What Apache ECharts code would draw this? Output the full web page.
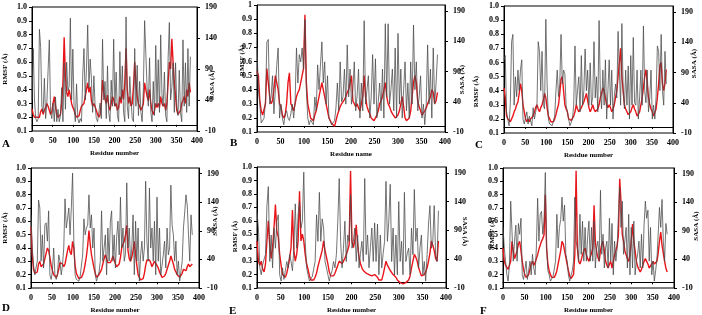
<!DOCTYPE html>
<html>
<head>
<meta charset="utf-8">
<script src="https://cdn.jsdelivr.net/npm/echarts@6/dist/echarts.min.js"></script>
<style>
  html, body { margin: 0; padding: 0; background: #fff; }
  #chart { width: 702px; height: 315px; }
</style>
</head>
<body>
<div id="chart"></div>
<script>
// RMSF / SASA per residue, six panels (A-F)

// residues are sampled every 3 positions: 0, 3, 6 ... 384
const STEP = 3;

// tick labels
const rmsfTicks = [0.1, 0.2, 0.3, 0.4, 0.5, 0.6, 0.7, 0.8, 0.9, 1.0];
const sasaTicks = [-10, 40, 90, 140, 190];
const resTicks = [0, 50, 100, 150, 200, 250, 300, 350, 400];

// panel A
const sasaA = [40,123,40,10,5,10,154,125,30,20, 75,10,35,88,137,20,10,35,5,45, 5,25,5,15,60,5,100,25,101,55,
  62,172,40,122,30,5,66,10,3,10, 5,80,123,40,90,161,60,106,75,20, 79,30,10,5,3,35,10,138,40,70,
  10,95,20,5,72,30,138,30,85,15, 5,118,40,95,20,5,174,30,10,78, 40,10,5,123,30,96,15,70,20,5,
  60,168,168,60,30,108,20,5,70,15, 128,30,105,20,145,50,30,85,15,5, 108,165,40,60,100,20,100,30,15,88,
  20,5,137,30,100,20,123,30,110];
const rmsfA = [0.26,0.22,0.2,0.19,0.2,0.21,0.2,0.24,0.26,0.22, 0.25,0.27,0.3,0.28,0.25,0.22,0.24,0.3,0.35,0.28,
  0.22,0.2,0.19,0.22,0.3,0.45,0.78,0.5,0.38,0.35, 0.4,0.35,0.3,0.27,0.25,0.22,0.2,0.19,0.21,0.25,
  0.28,0.27,0.3,0.35,0.4,0.45,0.38,0.42,0.32,0.28, 0.3,0.3,0.25,0.22,0.2,0.22,0.3,0.47,0.38,0.33,
  0.3,0.36,0.28,0.25,0.3,0.35,0.33,0.28,0.3,0.25, 0.27,0.35,0.3,0.4,0.33,0.45,0.7,0.4,0.3,0.35,
  0.28,0.3,0.42,0.6,0.45,0.35,0.3,0.28,0.25,0.27, 0.3,0.45,0.4,0.35,0.32,0.4,0.3,0.25,0.22,0.25,
  0.3,0.27,0.3,0.27,0.35,0.3,0.28,0.3,0.25,0.3, 0.45,0.6,0.55,0.77,0.6,0.45,0.35,0.25,0.22,0.22,
  0.25,0.3,0.32,0.35,0.3,0.4,0.35,0.45,0.38];

// panel B
const sasaB = [129,60,36,5,2,13,40,139,143,36, 48,83,20,60,100,129,13,36,13,2, 20,25,13,9,20,36,13,40,129,71,
  118,106,129,94,176,60,13,2,10,13, 2,48,25,101,60,100,139,71,106,36, 83,13,13,2,5,9,30,71,25,106,
  40,48,94,36,134,48,94,36,60,106, 25,50,94,13,71,25,174,36,60,83, 13,48,118,36,111,13,40,71,25,94,
  13,169,48,169,36,60,94,25,129,13, 153,36,94,13,60,106,25,71,13,106, 36,167,60,106,25,48,83,13,36,2,
  36,134,36,94,13,129,36,71,118];
const rmsfB = [0.53,0.5,0.32,0.25,0.22,0.22,0.3,0.55,0.45,0.35, 0.3,0.32,0.4,0.5,0.45,0.4,0.3,0.28,0.22,0.2,
  0.22,0.3,0.45,0.52,0.3,0.28,0.25,0.3,0.35,0.38, 0.4,0.45,0.5,0.55,0.93,0.45,0.3,0.25,0.2,0.2,
  0.18,0.22,0.25,0.3,0.35,0.4,0.45,0.4,0.35,0.3, 0.25,0.2,0.18,0.16,0.15,0.14,0.18,0.22,0.25,0.28,
  0.3,0.3,0.33,0.35,0.38,0.4,0.45,0.5,0.32,0.3, 0.28,0.3,0.27,0.25,0.3,0.35,0.5,0.35,0.28,0.25,
  0.23,0.2,0.19,0.18,0.2,0.22,0.25,0.3,0.32,0.35, 0.4,0.45,0.35,0.3,0.28,0.25,0.23,0.22,0.2,0.2,
  0.22,0.25,0.3,0.35,0.28,0.2,0.18,0.17,0.2,0.25, 0.35,0.45,0.5,0.45,0.32,0.28,0.25,0.22,0.22,0.25,
  0.27,0.3,0.3,0.35,0.4,0.38,0.3,0.32,0.38];

// panel C
const sasaC = [111,118,25,13,2,40,141,153,36,83, 50,94,60,94,111,13,5,2,25,5, 18,10,2,32,13,25,36,141,125,60,
  125,36,30,178,71,13,5,2,2,10, 18,60,94,50,71,153,71,94,88,36, 25,13,2,5,13,36,134,36,60,83,
  25,118,36,60,129,60,94,36,106,36, 50,141,48,83,25,176,60,30,94,36, 111,13,60,111,36,94,13,50,71,48,
  158,94,36,171,60,30,94,36,101,13, 118,36,148,40,36,94,13,48,94,36, 167,60,40,94,25,48,94,13,36,13,
  50,134,125,60,153,60,36,125,71];
const rmsfC = [0.42,0.35,0.22,0.2,0.19,0.18,0.2,0.22,0.25,0.27, 0.3,0.32,0.38,0.45,0.4,0.3,0.25,0.2,0.18,0.2,
  0.18,0.2,0.2,0.22,0.25,0.28,0.3,0.27,0.25,0.28, 0.3,0.33,0.38,0.35,0.28,0.22,0.2,0.18,0.17,0.18,
  0.2,0.23,0.27,0.3,0.38,0.48,0.5,0.4,0.3,0.27, 0.25,0.2,0.2,0.19,0.2,0.22,0.25,0.3,0.27,0.25,
  0.25,0.28,0.3,0.32,0.35,0.38,0.33,0.28,0.25,0.27, 0.3,0.27,0.25,0.25,0.27,0.3,0.35,0.38,0.42,0.4,
  0.35,0.3,0.28,0.3,0.28,0.25,0.27,0.3,0.35,0.4, 0.5,0.6,0.7,0.5,0.4,0.3,0.27,0.25,0.23,0.22,
  0.25,0.28,0.3,0.27,0.25,0.22,0.22,0.25,0.3,0.35, 0.42,0.5,0.55,0.45,0.35,0.3,0.27,0.25,0.22,0.23,
  0.27,0.35,0.45,0.58,0.6,0.45,0.4,0.45,0.55];

// panel D
const sasaD = [118,60,30,13,25,37,144,130,37,83, 25,100,104,72,125,13,5,20,60,13, 5,13,48,37,13,30,60,146,95,111,
  130,83,130,191,72,13,5,2,2,10, 13,48,111,83,95,100,153,95,118,60, 95,13,2,10,18,37,125,37,60,83,
  13,95,37,107,125,37,83,25,80,107, 48,149,60,95,37,50,174,60,95,37, 60,118,13,107,37,95,2,48,72,37,
  60,177,72,37,165,60,95,37,107,13, 149,37,95,13,30,48,72,25,95,48, 60,170,100,83,37,72,13,37,2,20,
  37,95,123,153,135,83,37,118,83];
const rmsfD = [0.56,0.35,0.24,0.21,0.2,0.22,0.28,0.3,0.26,0.26, 0.28,0.32,0.36,0.4,0.38,0.33,0.27,0.23,0.2,0.19,
  0.18,0.2,0.24,0.29,0.3,0.28,0.26,0.28,0.33,0.38, 0.42,0.37,0.35,0.45,0.4,0.27,0.21,0.19,0.17,0.17,
  0.18,0.2,0.23,0.28,0.34,0.42,0.53,0.43,0.35,0.3, 0.25,0.21,0.18,0.19,0.2,0.21,0.24,0.28,0.32,0.35,
  0.32,0.29,0.28,0.29,0.31,0.34,0.33,0.28,0.26,0.25, 0.28,0.33,0.4,0.43,0.45,0.5,0.57,0.38,0.32,0.3,
  0.33,0.38,0.45,0.35,0.27,0.2,0.18,0.16,0.15,0.17, 0.21,0.27,0.31,0.32,0.31,0.29,0.26,0.26,0.3,0.29,
  0.27,0.25,0.22,0.2,0.18,0.17,0.19,0.21,0.24,0.27, 0.3,0.34,0.33,0.28,0.24,0.22,0.2,0.19,0.18,0.19,
  0.21,0.24,0.25,0.23,0.26,0.28,0.26,0.25,0.28];

// panel E
const sasaE = [122,94,25,13,30,40,48,133,166,36, 82,25,94,59,106,117,13,2,25,5, 20,36,25,48,36,20,59,136,59,117,
  140,94,106,191,71,25,13,2,2,10, 13,36,117,71,156,71,110,94,36,25, 13,2,13,20,36,25,48,106,180,71,
  25,59,106,36,82,71,152,59,71,94, 36,82,25,50,71,36,180,48,82,25, 60,94,36,103,36,101,13,82,25,50,
  71,175,71,106,170,36,94,13,82,13, 140,36,71,13,156,36,50,59,13,94, 48,161,71,94,25,60,82,13,36,2,
  48,101,133,59,70,133,48,36,124];
const rmsfE = [0.45,0.3,0.27,0.3,0.24,0.22,0.28,0.45,0.6,0.42, 0.32,0.4,0.55,0.72,0.52,0.48,0.35,0.27,0.2,0.19,
  0.18,0.21,0.26,0.32,0.4,0.68,0.38,0.3,0.35,0.45, 0.82,0.45,0.5,0.45,0.35,0.28,0.24,0.19,0.16,0.15,
  0.16,0.18,0.21,0.26,0.3,0.34,0.38,0.45,0.38,0.33, 0.28,0.22,0.19,0.18,0.19,0.21,0.24,0.27,0.3,0.29,
  0.28,0.29,0.32,0.35,0.38,0.42,0.97,0.45,0.4,0.45, 0.57,0.42,0.33,0.28,0.25,0.23,0.22,0.21,0.2,0.2,
  0.2,0.19,0.18,0.2,0.19,0.18,0.16,0.15,0.16,0.2, 0.25,0.3,0.27,0.25,0.23,0.22,0.2,0.19,0.18,0.16,
  0.15,0.14,0.13,0.13,0.13,0.14,0.15,0.16,0.19,0.25, 0.3,0.35,0.33,0.3,0.25,0.22,0.19,0.18,0.2,0.22,
  0.25,0.3,0.36,0.45,0.42,0.38,0.32,0.3,0.45];

// panel F
const sasaF = [96,60,37,13,2,30,142,142,37,72, 100,37,103,84,112,13,5,2,37,5, 20,37,13,49,25,13,60,147,72,119,
  124,84,107,192,60,20,13,2,2,10, 13,37,119,60,96,110,149,107,135,49, 37,13,2,5,20,37,149,72,60,37,
  119,49,107,37,96,37,80,107,37,96, 37,107,25,60,72,37,161,49,84,25, 60,72,25,112,37,103,13,72,37,60,
  119,166,96,142,49,72,96,25,119,13, 96,25,107,13,37,49,72,25,84,25, 100,142,112,126,37,96,13,37,2,20,
  40,84,131,96,145,72,37,103,84];
const rmsfF = [0.4,0.3,0.27,0.26,0.24,0.24,0.3,0.45,0.38,0.32, 0.33,0.38,0.43,0.45,0.38,0.3,0.24,0.2,0.18,0.18,
  0.2,0.24,0.28,0.3,0.27,0.29,0.32,0.35,0.39,0.42, 0.45,0.47,0.5,0.8,0.4,0.28,0.23,0.2,0.18,0.17,
  0.18,0.2,0.23,0.28,0.33,0.38,0.45,0.43,0.38,0.33, 0.28,0.23,0.19,0.17,0.18,0.2,0.35,0.98,0.4,0.3,
  0.28,0.31,0.35,0.38,0.4,0.35,0.32,0.3,0.33,0.36, 0.4,0.72,0.45,0.37,0.33,0.3,0.38,0.43,0.45,0.38,
  0.3,0.27,0.25,0.28,0.3,0.25,0.3,0.35,0.38,0.42, 0.5,0.92,0.75,0.5,0.45,0.38,0.35,0.32,0.3,0.35,
  0.45,0.58,0.45,0.38,0.3,0.26,0.24,0.22,0.24,0.27, 0.3,0.32,0.3,0.28,0.25,0.25,0.28,0.3,0.28,0.27,
  0.3,0.36,0.45,0.52,0.42,0.36,0.3,0.25,0.22];

// layout of each panel (lShift / rShift: how far the axis titles sit below the middle, px)
const panels = [
  { letter: 'A', rmsf: rmsfA, sasa: sasaA, sasaMax: 190, xName: 'Residue number', oneDigit: true,
    grid: { left: 32, top: 7, width: 165, height: 124 }, lGap: 23, rGap: 12, rRot: 90,
    lShift: 0, rShift: 16, pos: [2, 139] },
  { letter: 'B', rmsf: rmsfB, sasa: sasaB, sasaMax: 200, xName: 'Residue name', oneDigit: false,
    grid: { left: 257, top: 5, width: 188, height: 127 }, lGap: 11, rGap: 14, rRot: 90,
    lShift: -8, rShift: 11, pos: [230, 138] },
  { letter: 'C', rmsf: rmsfC, sasa: sasaC, sasaMax: 200, xName: 'Residue number', oneDigit: true,
    grid: { left: 504, top: 6, width: 169, height: 127 }, lGap: 24, rGap: 18, rRot: 90,
    lShift: 22, rShift: -6, pos: [475, 140] },
  { letter: 'D', rmsf: rmsfD, sasa: sasaD, sasaMax: 200, xName: 'Residue number', oneDigit: true,
    grid: { left: 31, top: 168, width: 168, height: 123 }, lGap: 22, rGap: 13, rRot: 90,
    lShift: 0, rShift: -7, pos: [2, 303] },
  { letter: 'E', rmsf: rmsfE, sasa: sasaE, sasaMax: 200, xName: 'Residue number', oneDigit: true,
    grid: { left: 257, top: 167, width: 189, height: 124 }, lGap: 18, rGap: 15, rRot: -90,
    lShift: 9, rShift: 4, pos: [229, 306] },
  { letter: 'F', rmsf: rmsfF, sasa: sasaF, sasaMax: 200, xName: 'Residue number', oneDigit: true,
    grid: { left: 503, top: 168, width: 171, height: 122 }, lGap: 7, rGap: 19, rRot: 90,
    lShift: 5, rShift: -2, pos: [480, 306] }
];

const FONT = 'Liberation Serif';
const labelStyle = { color: '#000', fontFamily: FONT, fontWeight: 'bold', fontSize: 8 };
const lineStyle = { show: true, lineStyle: { color: '#000', width: 1 } };

// move a rotated axis title down by `s` px using padding on one end of the text
function shiftPad(s, rot) {
  const d = Math.abs(s) * 2;
  const down = rot === 90 ? [0, d, 0, 0] : [0, 0, 0, d];
  const up = rot === 90 ? [0, 0, 0, d] : [0, d, 0, 0];
  return s >= 0 ? down : up;
}

function nameStyle(pad) {
  return { color: '#000', fontFamily: FONT, fontWeight: 'bold', fontSize: 7, padding: pad || 0 };
}

const chart = echarts.init(document.getElementById('chart'), null, { renderer: 'canvas' });

const grids = [], xAxes = [], yAxes = [], series = [], titles = [];

panels.forEach((p, i) => {
  grids.push(Object.assign({ show: true, borderColor: '#000', borderWidth: 1, containLabel: false }, p.grid));

  xAxes.push({
    gridIndex: i, type: 'value', min: 0, max: 400, interval: 50,
    axisLine: lineStyle,
    axisTick: { show: true, length: 2, lineStyle: { color: '#000' } },
    axisLabel: Object.assign({ margin: 6, customValues: resTicks }, labelStyle),
    splitLine: { show: false },
    name: p.xName, nameLocation: 'middle', nameGap: 19, nameMoveOverlap: false, nameTextStyle: nameStyle()
  });

  yAxes.push({
    gridIndex: i, type: 'value', position: 'left', min: 0.1, max: 1.0,
    axisLine: lineStyle,
    axisTick: { show: true, length: 3, customValues: rmsfTicks, lineStyle: { color: '#000' } },
    axisLabel: Object.assign({
      margin: 5, customValues: rmsfTicks,
      formatter: v => p.oneDigit ? v.toFixed(1) : String(+v.toFixed(1))
    }, labelStyle),
    splitLine: { show: false },
    name: 'RMSF (Å)', nameLocation: 'middle', nameRotate: 90, nameGap: p.lGap,
    nameMoveOverlap: false, nameTextStyle: nameStyle(shiftPad(p.lShift, 90))
  });

  yAxes.push({
    gridIndex: i, type: 'value', position: 'right', min: -10, max: p.sasaMax,
    axisLine: lineStyle,
    axisTick: { show: true, length: 3, customValues: sasaTicks, lineStyle: { color: '#000' } },
    axisLabel: Object.assign({ margin: 8, customValues: sasaTicks }, labelStyle),
    splitLine: { show: false },
    name: 'SASA (Å)', nameLocation: 'middle', nameRotate: p.rRot, nameGap: p.rGap,
    nameMoveOverlap: false, nameTextStyle: nameStyle(shiftPad(p.rShift, p.rRot))
  });

  // red RMSF line underneath, grey SASA spikes on top
  series.push({
    type: 'line', xAxisIndex: i, yAxisIndex: i * 2, showSymbol: false, animation: false,
    lineStyle: { color: '#e8161b', width: 1.4 },
    data: p.rmsf.map((v, k) => [k * STEP, v])
  });
  series.push({
    type: 'line', xAxisIndex: i, yAxisIndex: i * 2 + 1, showSymbol: false, animation: false,
    lineStyle: { color: '#4a4a4a', width: 0.9, opacity: 0.85 },
    data: p.sasa.map((v, k) => [k * STEP, v])
  });

  titles.push({
    text: p.letter, left: p.pos[0], top: p.pos[1], padding: 0,
    textStyle: { color: '#000', fontFamily: FONT, fontWeight: 'bold', fontSize: 11 }
  });
});

chart.setOption({
  backgroundColor: '#fff',
  animation: false,
  title: titles,
  grid: grids,
  xAxis: xAxes,
  yAxis: yAxes,
  series: series
});
</script>
</body>
</html>
